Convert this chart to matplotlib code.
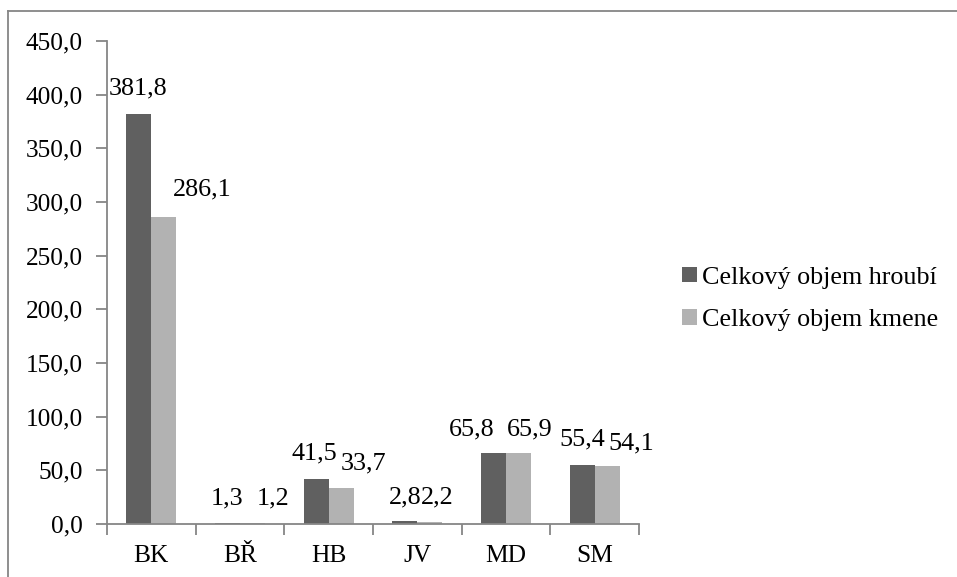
import matplotlib
matplotlib.use("Agg")
import matplotlib.pyplot as plt
from matplotlib.lines import Line2D
import numpy as np

categories = ["BK", "BŘ", "HB", "JV", "MD", "SM"]
hroubi = [381.8, 1.3, 41.5, 2.8, 65.8, 55.4]
kmene = [286.1, 1.2, 33.7, 2.2, 65.9, 54.1]
series_names = ["Celkový objem hroubí", "Celkový objem kmene"]
yticks = [0, 50, 100, 150, 200, 250, 300, 350, 400, 450]

# label offsets in pixels (dx, dy above bar top to label center)
off_h = [(-1, 26), (0, 24), (-1.5, 26), (0, 24), (-22, 24), (0, 25)]
off_k = [(38.5, 27), (21, 24), (22.5, 24), (7.5, 24), (11, 24), (24, 22)]

plt.rcParams['font.family'] = ['Liberation Serif', 'DejaVu Serif']
FS = 18.3
LFS = 18.8
W, H = 957, 577
fig = plt.figure(figsize=(W / 100, H / 100), dpi=100)
ax = fig.add_axes([107 / W, 1 - 524 / H, (639 - 107) / W, (524 - 41) / H])

x = np.arange(len(categories))
bw = 25 / 88.7
dark, light = "#606060", "#b2b2b2"
ax.bar(x - bw / 2, hroubi, bw, color=dark, label=series_names[0])
ax.bar(x + bw / 2, kmene, bw, color=light, label=series_names[1])

ax.set_xlim(-0.5, len(categories) - 0.5)
ax.set_ylim(0, 450)
ax.set_yticks(yticks)
ax.set_yticklabels([f"{v:.1f}".replace(".", ",") for v in yticks], fontsize=FS)
ax.set_xticks(x)
ax.set_xticklabels(categories, fontsize=FS)
ax.set_xticks(np.arange(len(categories) + 1) - 0.5, minor=True)
ax.tick_params(axis='x', which='major', length=0, pad=15)
ax.tick_params(axis='x', which='minor', length=8, width=1.3, color="#868686", direction='out')
ax.tick_params(axis='y', length=8, width=1.3, color="#868686", direction='out', pad=9.5)
for s in ["top", "right"]:
    ax.spines[s].set_visible(False)
for s in ["left", "bottom"]:
    ax.spines[s].set_color("#868686")
    ax.spines[s].set_linewidth(1.3)

for vals, offs, shift in [(hroubi, off_h, -bw / 2), (kmene, off_k, bw / 2)]:
    for i, v in enumerate(vals):
        dx, dy = offs[i]
        ax.annotate(f"{v:.1f}".replace(".", ","), xy=(x[i] + shift, v),
                    xytext=(dx * 0.72, dy * 0.72), textcoords="offset points",
                    ha="center", va="center", fontsize=18.8, annotation_clip=False)

leg = fig.legend(loc="center left", bbox_to_anchor=(672 / W, 1 - 299 / H), frameon=False,
                 fontsize=LFS, handlelength=0.55, handleheight=0.55, handletextpad=0.18,
                 labelspacing=0.78, borderaxespad=0)

fig.add_artist(Line2D([8 / W, 1], [1 - 11 / H] * 2, color="#868686", lw=1.3))
fig.add_artist(Line2D([8 / W] * 2, [0, 1 - 11 / H], color="#868686", lw=1.3))

fig.savefig("out.png", dpi=100)
